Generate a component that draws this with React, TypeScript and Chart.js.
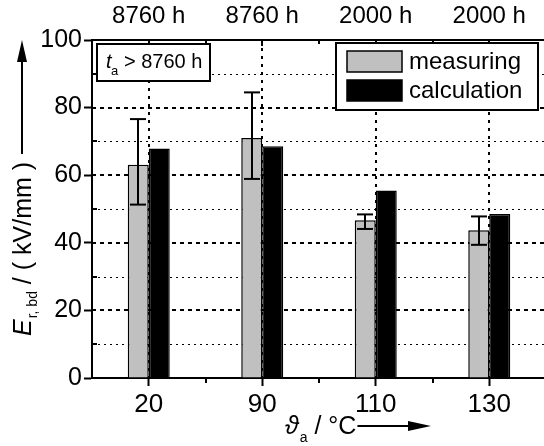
import React, { useEffect, useRef } from 'react';
import { Chart, registerables } from 'chart.js';

Chart.register(...registerables);

// ---- data ----
const categories = ['20', '90', '110', '130'];
const topLabels = ['8760 h', '8760 h', '2000 h', '2000 h'];
const measuring = [63.1, 71.0, 46.7, 43.7];
const measuringLow = [51.3, 58.9, 44.1, 39.4];
const measuringHigh = [76.6, 84.5, 48.4, 47.8];
const calculation = [67.9, 68.6, 55.5, 48.5];
const yMajorTicks = [20, 40, 60, 80];
const yMinorTicks = [10, 30, 50, 70, 90];
const legendLabels = ['measuring', 'calculation'];
const annotationText = '> 8760 h';

const W = 560;
const H = 446;
const FONT = '"Liberation Sans", Arial, sans-serif';
const GREY = '#c0c0c0';

function line(ctx: CanvasRenderingContext2D, x1: number, y1: number, x2: number, y2: number) {
  ctx.beginPath();
  ctx.moveTo(x1, y1);
  ctx.lineTo(x2, y2);
  ctx.stroke();
}

const decor = {
  id: 'decor',
  beforeDatasetsDraw(chart: any) {
    const { ctx, chartArea: a, scales } = chart;
    const x = scales.x;
    const y = scales.y;
    ctx.save();
    ctx.strokeStyle = '#000';
    // minor horizontal grid
    ctx.lineWidth = 1;
    ctx.setLineDash([2, 4]);
    for (const v of yMinorTicks) {
      const py = Math.round(y.getPixelForValue(v)) + 0.5;
      line(ctx, a.left, py, a.right, py);
    }
    // major horizontal grid
    ctx.lineWidth = 2;
    ctx.setLineDash([4, 4]);
    for (const v of yMajorTicks) {
      const py = Math.round(y.getPixelForValue(v));
      line(ctx, a.left, py, a.right, py);
    }
    // vertical dotted lines at categories
    ctx.lineWidth = 2;
    ctx.setLineDash([3, 5]);
    categories.forEach((_, i) => {
      const px = Math.round(x.getPixelForValue(i));
      line(ctx, px, a.top, px, a.bottom);
    });
    ctx.restore();
  },
  afterDatasetsDraw(chart: any) {
    const { ctx, scales } = chart;
    const y = scales.y;
    const meta = chart.getDatasetMeta(0);
    ctx.save();
    ctx.strokeStyle = '#000';
    ctx.lineWidth = 2;
    ctx.setLineDash([]);
    meta.data.forEach((bar: any, i: number) => {
      const px = Math.round(bar.x);
      const yl = y.getPixelForValue(measuringLow[i]);
      const yh = y.getPixelForValue(measuringHigh[i]);
      line(ctx, px, yl, px, yh);
      line(ctx, px - 8, yl, px + 8, yl);
      line(ctx, px - 8, yh, px + 8, yh);
    });
    ctx.restore();
  },
  afterDraw(chart: any) {
    const { ctx, chartArea: a, scales } = chart;
    const x = scales.x;
    const y = scales.y;
    ctx.save();
    ctx.strokeStyle = '#000';
    ctx.fillStyle = '#000';
    ctx.setLineDash([]);
    ctx.lineWidth = 2;
    // minor ticks left (inward)
    for (const v of yMinorTicks) {
      const py = Math.round(y.getPixelForValue(v));
      line(ctx, a.left, py, a.left + 5, py);
    }
    // top ticks (inward) and bottom minor ticks (outward)
    categories.forEach((_, i) => {
      const px = Math.round(x.getPixelForValue(i));
      line(ctx, px, a.top, px, a.top + 6);
      if (i < categories.length - 1) {
        const pm = Math.round((x.getPixelForValue(i) + x.getPixelForValue(i + 1)) / 2);
        line(ctx, pm, a.bottom, pm, a.bottom + 5);
        line(ctx, pm, a.top, pm, a.top + 4);
      }
    });

    // annotation box
    ctx.fillStyle = '#fff';
    ctx.fillRect(97, 44, 113, 37);
    ctx.strokeRect(97, 44, 113, 37);
    ctx.fillStyle = '#000';
    ctx.textBaseline = 'alphabetic';
    ctx.textAlign = 'left';
    ctx.font = `italic 20px ${FONT}`;
    ctx.fillText('t', 106, 68);
    ctx.font = `13px ${FONT}`;
    ctx.fillText('a', 111, 75);
    ctx.font = `20px ${FONT}`;
    ctx.fillText(annotationText, 124, 68);

    // legend
    ctx.fillStyle = '#fff';
    ctx.fillRect(336, 43, 202, 67);
    ctx.lineWidth = 2;
    ctx.strokeRect(336, 43, 202, 67);
    const sw = [GREY, '#000'];
    legendLabels.forEach((lab, i) => {
      const ty = 51 + i * 29;
      ctx.fillStyle = sw[i];
      ctx.fillRect(347, ty, 55, 21);
      ctx.lineWidth = 1.5;
      ctx.strokeRect(347, ty, 55, 21);
      ctx.fillStyle = '#000';
      ctx.font = `24px ${FONT}`;
      ctx.textBaseline = 'middle';
      ctx.fillText(lab, 409, ty + 11);
    });

    // y title (rotated)
    ctx.save();
    ctx.translate(31, 336);
    ctx.rotate(-Math.PI / 2);
    ctx.textBaseline = 'alphabetic';
    let cx = 0;
    ctx.font = `italic 25px ${FONT}`;
    ctx.fillText('E', cx, 0);
    cx += ctx.measureText('E').width + 1;
    ctx.font = `14px ${FONT}`;
    ctx.fillText('r, bd', cx, 6);
    cx += ctx.measureText('r, bd').width;
    ctx.font = `25px ${FONT}`;
    ctx.fillText(' / ( kV/mm )', cx, 0);
    cx += ctx.measureText(' / ( kV/mm )').width;
    ctx.restore();
    const yTextEnd = 336 - cx;
    ctx.lineWidth = 2;
    line(ctx, 22, yTextEnd - 8, 22, 58);
    ctx.beginPath();
    ctx.moveTo(22, 40);
    ctx.lineTo(17, 62);
    ctx.lineTo(27, 62);
    ctx.closePath();
    ctx.fill();

    // x title
    ctx.textBaseline = 'alphabetic';
    ctx.font = `italic 25px ${FONT}`;
    let tx = 285;
    ctx.fillText('\u03D1', tx, 434);
    tx += ctx.measureText('\u03D1').width + 1;
    ctx.font = `14px ${FONT}`;
    ctx.fillText('a', tx, 442);
    tx += ctx.measureText('a').width;
    ctx.font = `25px ${FONT}`;
    ctx.fillText(' / \u00B0C', tx, 434);
    tx += ctx.measureText(' / \u00B0C').width;
    line(ctx, tx + 1, 426, 412, 426);
    ctx.beginPath();
    ctx.moveTo(431, 426);
    ctx.lineTo(408, 421);
    ctx.lineTo(408, 431);
    ctx.closePath();
    ctx.fill();

    ctx.restore();
  },
};

export default function App() {
  const ref = useRef<HTMLCanvasElement>(null);
  useEffect(() => {
    if (!ref.current) return;
    const chart = new Chart(ref.current, {
      type: 'bar',
      data: {
        labels: categories,
        datasets: [
          {
            label: legendLabels[0],
            data: measuring,
            backgroundColor: GREY,
            borderColor: '#000',
            borderWidth: 1.5,
            xAxisID: 'x',
            yAxisID: 'y',
          },
          {
            label: legendLabels[1],
            data: calculation,
            backgroundColor: '#000',
            borderColor: '#000',
            borderWidth: 1.5,
            xAxisID: 'x',
            yAxisID: 'y',
          },
        ],
      },
      options: {
        responsive: false,
        animation: false,
        devicePixelRatio: 1,
        layout: { padding: { left: 0, top: 0, bottom: 0, right: W - 546 } },
        datasets: { bar: { categoryPercentage: 0.37, barPercentage: 1.0 } },
        plugins: { legend: { display: false }, tooltip: { enabled: false } },
        scales: {
          x: {
            type: 'category',
            position: 'bottom',
            offset: true,
            grid: { drawOnChartArea: false, offset: false, tickLength: 8, tickWidth: 2, tickColor: '#000' },
            border: { display: true, color: '#000', width: 2 },
            ticks: { color: '#000', font: { family: FONT, size: 26 }, padding: 3, maxRotation: 0 },
            afterFit: (s: any) => { s.height = H - 378; },
          },
          x2: {
            type: 'category',
            position: 'top',
            labels: topLabels,
            offset: true,
            grid: { drawOnChartArea: false, offset: false, drawTicks: false },
            border: { display: true, color: '#000', width: 2 },
            ticks: { color: '#000', font: { family: FONT, size: 24 }, padding: 9, maxRotation: 0, autoSkip: false },
            afterFit: (s: any) => { s.height = 40; },
          },
          y: {
            type: 'linear',
            position: 'left',
            min: 0,
            max: 100,
            ticks: { stepSize: 20, color: '#000', font: { family: FONT, size: 25 }, padding: 2 },
            grid: { drawOnChartArea: false, tickLength: 8, tickWidth: 2, tickColor: '#000' },
            border: { display: true, color: '#000', width: 2 },
            afterFit: (s: any) => { s.width = 92; },
          },
        },
      },
      plugins: [decor],
    } as any);
    return () => chart.destroy();
  }, []);
  return (
    <div style={{ position: 'fixed', left: 0, top: 0, width: 544, height: 446, overflow: 'hidden', background: '#fff' }}>
      <canvas ref={ref} width={W} height={H} style={{ display: 'block', width: W, height: H }} />
    </div>
  );
}
